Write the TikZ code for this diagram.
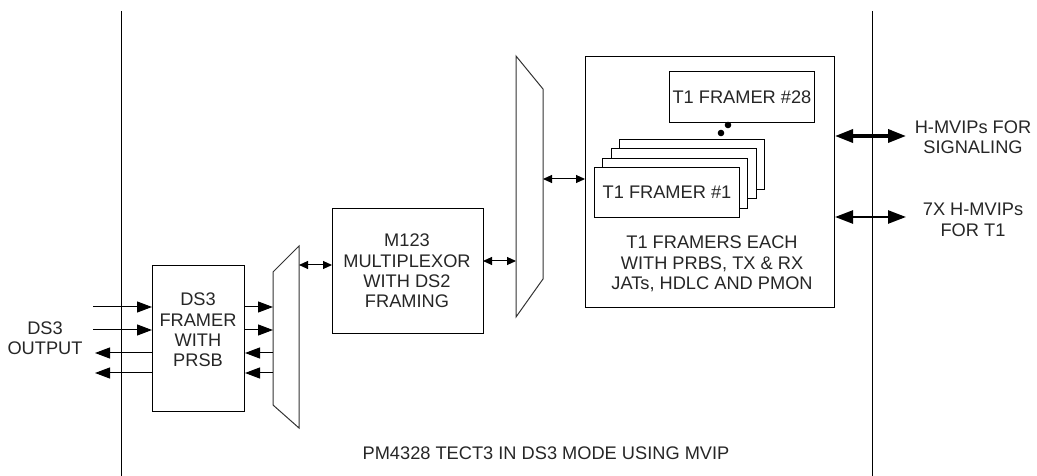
\documentclass[tikz,border=0pt]{standalone}
\usepackage{fontspec}
\setmainfont{Liberation Sans}
\usetikzlibrary{arrows.meta}
\begin{document}
\begin{tikzpicture}[x=1bp,y=-1bp,
  box/.style={draw, line width=1bp, fill=white, inner sep=0pt, anchor=north west},
  txt/.style={align=center, font=\fontsize{18.3}{20.5}\selectfont, inner sep=0pt, text=black!85},
  sarr/.style={line width=1bp, -{Triangle[length=15bp,width=11bp]}},
  darr/.style={line width=1bp, {Triangle[length=9bp,width=8bp]}-{Triangle[length=9bp,width=8bp]}},
  bigarr/.style={{Triangle[length=18bp,width=13bp]}-{Triangle[length=18bp,width=13bp]}},
  muxs/.style={draw=black!80, line width=1bp}
]
\useasboundingbox (0,0) rectangle (1037,476);

% chip boundary lines
\coordinate (lt) at (121,11); \coordinate (lb) at (121,476);
\coordinate (rt) at (872,11); \coordinate (rb) at (872,476);
\draw[line width=1bp] (lt) -- (lb);
\draw[line width=1bp] (rt) -- (rb);

% DS3 framer
\node[box, minimum width=92bp, minimum height=146bp] (ds3) at (152,265) {};
\node[txt] (ds3t) at (198,330) {DS3\\FRAMER\\WITH\\PRSB};

% small mux
\draw[muxs] (273,272) coordinate (smtl) -- (299,246) coordinate (smtr) -- (299,428) coordinate (smbr) -- (273,405) coordinate (smbl) -- cycle;

% M123
\node[box, minimum width=151bp, minimum height=125bp] (m123) at (332,208) {};
\node[txt] (m123t) at (407,271) {M123\\MULTIPLEXOR\\WITH DS2\\FRAMING};

% big mux
\draw[muxs] (516,56) coordinate (bmtl) -- (543,89) coordinate (bmtr) -- (543,279) coordinate (bmbr) -- (516,317) coordinate (bmbl) -- cycle;

% T1 framers block
\node[box, minimum width=249bp, minimum height=251bp] (t1) at (585,56) {};
\node[box, minimum width=145bp, minimum height=51bp] (t28) at (669,71) {};
\node[txt] at (t28.center) {T1 FRAMER \#28};
\fill (728,125) circle (3.3bp) (721,133) circle (3.3bp);
\node[box, minimum width=145bp, minimum height=50bp] (s4) at (619,139) {};
\node[box, minimum width=145bp, minimum height=50bp] (s3) at (611,148) {};
\node[box, minimum width=145bp, minimum height=50bp] (s2) at (602,158) {};
\node[box, minimum width=145bp, minimum height=50bp] (t1f) at (594,167) {};
\node[txt] at (t1f.center) {T1 FRAMER \#1};
\node[txt] (t1t) at (712,264) {T1 FRAMERS EACH\\WITH PRBS, TX \& RX\\JATs, HDLC AND PMON};

% DS3 side I/O
\node[txt] (ds3o) at (45,338) {DS3\\OUTPUT};
\coordinate (i1) at (93,307); \coordinate (i2) at (93,330);
\coordinate (o1) at (95,353); \coordinate (o2) at (95,373);
\draw[sarr] (i1) -- (i1 -| ds3.west);
\draw[sarr] (i2) -- (i2 -| ds3.west);
\draw[sarr] (o1 -| ds3.west) -- (o1);
\draw[sarr] (o2 -| ds3.west) -- (o2);

% DS3 framer <-> small mux
\draw[sarr] (i1 -| ds3.east) -- (i1 -| smtl);
\draw[sarr] (i2 -| ds3.east) -- (i2 -| smtl);
\draw[sarr] (o1 -| smtl) -- (o1 -| ds3.east);
\draw[sarr] (o2 -| smtl) -- (o2 -| ds3.east);

% mux <-> M123 <-> mux <-> T1
\coordinate (a1) at (299,265);
\draw[darr] (a1) -- (a1 -| m123.west);
\coordinate (a2) at (483,261);
\draw[darr] (a2) -- (a2 -| bmtl);
\coordinate (a3) at (543,179);
\draw[darr] (a3) -- (a3 -| t1.west);

% right side
\coordinate (r1) at (906,136); \coordinate (r2) at (906,217);
\draw[bigarr, line width=3.5bp] (r1 -| t1.east) -- (r1);
\draw[bigarr, line width=2.5bp] (r2 -| t1.east) -- (r2);
\node[txt] (rt1) at (973,137) {H-MVIPs FOR\\SIGNALING};
\node[txt] (rt2) at (973,220) {7X H-MVIPs\\FOR T1};

% caption
\node[txt] (cap) at (546,453) {PM4328 TECT3 IN DS3 MODE USING MVIP};
\end{tikzpicture}
\end{document}
